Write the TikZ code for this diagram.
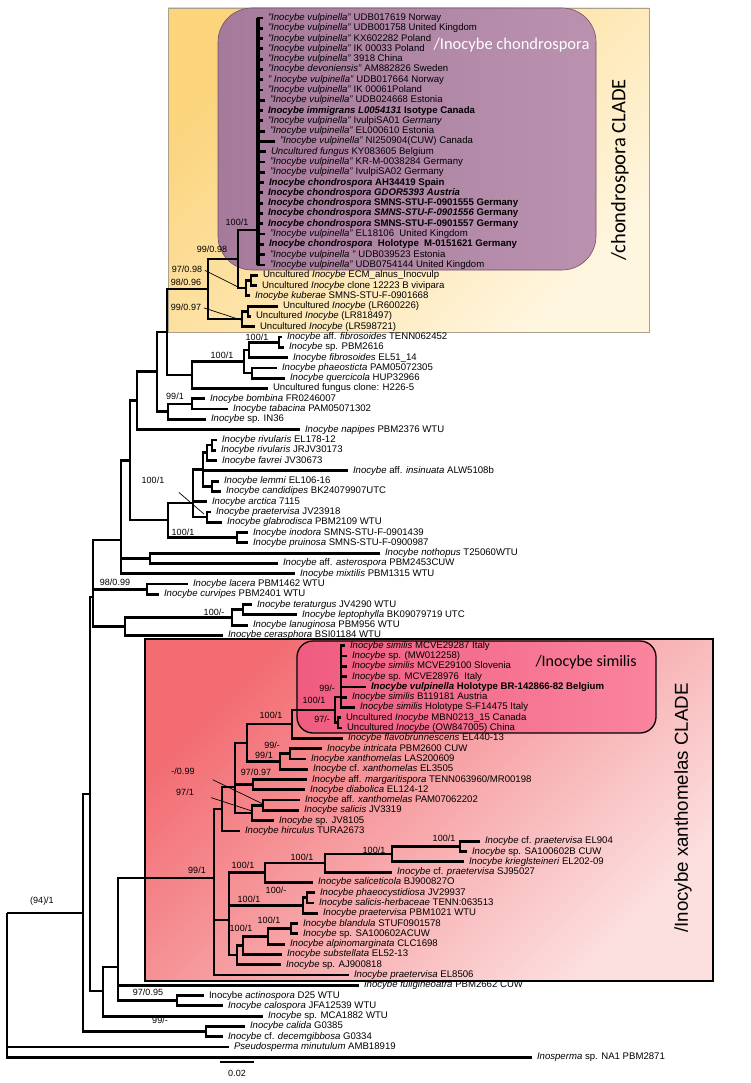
\documentclass[tikz,border=0pt]{standalone}
\usepackage{fontspec}
\setmainfont{Liberation Sans}
\newfontfamily\calfont{Carlito}

\definecolor{yelltop}{RGB}{251,212,124}
\definecolor{yellbot}{RGB}{255,246,224}
\definecolor{yellline}{RGB}{170,160,140}
\definecolor{mauveL}{RGB}{166,122,154}
\definecolor{mauveR}{RGB}{186,146,176}
\definecolor{mauveline}{RGB}{110,80,100}
\definecolor{xanTL}{RGB}{242,108,114}
\definecolor{xanBR}{RGB}{252,224,224}
\definecolor{simL}{RGB}{239,92,128}
\definecolor{simR}{RGB}{250,132,158}

\tikzset{
  br/.style={line width=2.8pt},
  chbr/.style={line width=3.8pt},
  leaf/.style={anchor=west, inner xsep=5pt, inner ysep=0pt, outer sep=0pt, text height=7pt, text depth=2pt, font=\fontsize{9.6}{11}\selectfont},
  supp/.style={inner sep=0pt, font=\fontsize{9}{10}\selectfont},
  ptr/.style={line width=0.7pt},
  cladetxt/.style={font=\calfont\fontsize{16.5}{18}\selectfont},
}

\begin{document}
\begin{tikzpicture}[x=1pt,y=-1pt]
	\useasboundingbox (0,0) rectangle (750,1083);

	% clade boxes
	\shade[top color=yelltop, bottom color=yellbot, shading angle=45] (168,8) rectangle (649,332);
	\draw[line width=0.6pt, draw=yellline] (168,8) rectangle (649,332);
	\shade[rounded corners=34pt, left color=mauveL, right color=mauveR] (218,8) rectangle (596,270);
	\draw[rounded corners=34pt, line width=0.6pt, draw=mauveline] (218,8) rectangle (596,270);
	\shade[top color=xanTL, bottom color=xanBR, shading angle=45] (145,639) rectangle (713,981);
	\draw[line width=1.2pt] (145,639) rectangle (713,981);
	\shade[rounded corners=16pt, left color=simL, right color=simR] (297,641) rectangle (656,733);
	\draw[rounded corners=16pt, line width=1.3pt] (297,641) rectangle (656,733);

	% clade names
	\node[cladetxt, text=white, anchor=west] (tch) at (430,45) {/Inocybe chondrospora};
	\node[font=\calfont\fontsize{20.5}{22}\selectfont, rotate=90] (tchc) at (620,170) {/chondrospora CLADE};
	\node[font=\calfont\fontsize{16}{18}\selectfont, anchor=west] (tsim) at (532,662) {/Inocybe similis};
	\node[font=\fontsize{18.7}{20}\selectfont, rotate=90] (txan) at (683,808) {/Inocybe xanthomelas CLADE};

	% leaves
	\node[leaf] (l1) at (263,18.0) {\textit{"Inocybe vulpinella"} UDB017619 Norway};
	\node[leaf] (l2) at (263,28.3) {\textit{"Inocybe vulpinella"} UDB001758 United Kingdom};
	\node[leaf] (l3) at (263,38.6) {\textit{"Inocybe vulpinella"} KX602282 Poland};
	\node[leaf] (l4) at (263,48.9) {\textit{"Inocybe vulpinella"} IK 00033 Poland};
	\node[leaf] (l5) at (263,59.2) {\textit{"Inocybe vulpinella"} 3918 China};
	\node[leaf] (l6) at (263,69.5) {\textit{"Inocybe devoniensis"} AM882826 Sweden};
	\node[leaf] (l7) at (263,79.7) {\textit{" Inocybe vulpinella"} UDB017664 Norway};
	\node[leaf] (l8) at (263,90.0) {\textit{"Inocybe vulpinella"} IK 00061Poland};
	\node[leaf] (l9) at (265,100.3) {\textit{"Inocybe vulpinella"} UDB024668 Estonia};
	\node[leaf] (l10) at (263,110.6) {\textbf{\textit{Inocybe immigrans L0054131} Isotype Canada}};
	\node[leaf] (l11) at (263,120.9) {\textit{"Inocybe vulpinella"} IvulpiSA01 \textit{Germany}};
	\node[leaf] (l12) at (265,131.2) {\textit{"Inocybe vulpinella"} EL000610 Estonia};
	\node[leaf] (l13) at (275,141.5) {\textit{"Inocybe vulpinella"} NI250904(CUW) Canada};
	\node[leaf] (l14) at (266,151.8) {\textit{Uncultured fungus} KY083605 Belgium};
	\node[leaf] (l15) at (265,162.1) {\textit{"Inocybe vulpinella"} KR-M-0038284 Germany};
	\node[leaf] (l16) at (265,172.4) {\textit{"Inocybe vulpinella"} IvulpiSA02 Germany};
	\node[leaf] (l17) at (264,182.6) {\textbf{\textit{Inocybe chondrospora} AH34419 Spain}};
	\node[leaf] (l18) at (263,192.9) {\textbf{\textit{Inocybe chondrospora GDOR5393 Austria}}};
	\node[leaf] (l19) at (263,203.2) {\textbf{\textit{Inocybe chondrospora} SMNS-STU-F-0901555 Germany}};
	\node[leaf] (l20) at (263,213.5) {\textbf{\textit{Inocybe chondrospora SMNS-STU-F-0901556} Germany}};
	\node[leaf] (l21) at (263,223.8) {\textbf{\textit{Inocybe chondrospora} SMNS-STU-F-0901557 Germany}};
	\node[leaf] (l22) at (265,234.1) {\textit{"Inocybe vulpinella"} EL18106\ \ United Kingdom};
	\node[leaf] (l23) at (264,244.4) {\textbf{\textit{Inocybe chondrospora}\ \ Holotype\ \ M-0151621 Germany}};
	\node[leaf] (l24) at (265,254.7) {\textit{"Inocybe vulpinella "} UDB039523 Estonia};
	\node[leaf] (l25) at (265,265.0) {\textit{"Inocybe vulpinella"} UDB0754144 United Kingdom};
	\node[leaf] (l26) at (258,275.3) {Uncultured \textit{Inocybe} ECM\_alnus\_Inocvulp};
	\node[leaf] (l27) at (257,285.5) {Uncultured \textit{Inocybe} clone 12223 B vivipara};
	\node[leaf] (l28) at (250,295.8) {\textit{Inocybe kuberae} SMNS-STU-F-0901668};
	\node[leaf] (l29) at (278,306.1) {Uncultured \textit{Inocybe} (LR600226)};
	\node[leaf] (l30) at (251,316.4) {Uncultured \textit{Inocybe} (LR818497)};
	\node[leaf] (l31) at (255,326.7) {Uncultured \textit{Inocybe} (LR598721)};
	\node[leaf] (l32) at (282,337.0) {\textit{Inocybe} aff. \textit{fibrosoides} TENN062452};
	\node[leaf] (l33) at (284,347.3) {\textit{Inocybe} sp. PBM2616};
	\node[leaf] (l34) at (288,357.6) {\textit{Inocybe fibrosoides} EL51\_14};
	\node[leaf] (l35) at (277,367.9) {\textit{Inocybe phaeosticta} PAM05072305};
	\node[leaf] (l36) at (285,378.2) {\textit{Inocybe quercicola} HUP32966};
	\node[leaf] (l37) at (268,388.4) {Uncultured fungus clone: H226-5};
	\node[leaf] (l38) at (205,398.7) {\textit{Inocybe bombina} FR0246007};
	\node[leaf] (l39) at (228,409.0) {\textit{Inocybe tabacina} PAM05071302};
	\node[leaf] (l40) at (206,419.3) {\textit{Inocybe} sp. IN36};
	\node[leaf] (l41) at (300,429.6) {\textit{Inocybe napipes} PBM2376 WTU};
	\node[leaf] (l42) at (217,439.9) {\textit{Inocybe rivularis} EL178-12};
	\node[leaf] (l43) at (216,450.2) {\textit{Inocybe rivularis} JRJV30173};
	\node[leaf] (l44) at (217,460.5) {\textit{Inocybe favrei} JV30673};
	\node[leaf] (l45) at (348,470.8) {\textit{Inocybe} aff. \textit{insinuata} ALW5108b};
	\node[leaf] (l46) at (219,481.1) {\textit{Inocybe lemmi} EL106-16};
	\node[leaf] (l47) at (221,491.3) {\textit{Inocybe candidipes} BK24079907UTC};
	\node[leaf] (l48) at (207,501.6) {\textit{Inocybe arctica} 7115};
	\node[leaf] (l49) at (211,511.9) {\textit{Inocybe praetervisa} JV23918};
	\node[leaf] (l50) at (222,522.2) {\textit{Inocybe glabrodisca} PBM2109 WTU};
	\node[leaf] (l51) at (248,532.5) {\textit{Inocybe inodora} SMNS-STU-F-0901439};
	\node[leaf] (l52) at (248,542.8) {\textit{Inocybe pruinosa} SMNS-STU-F-0900987};
	\node[leaf] (l53) at (380,553.1) {\textit{Inocybe nothopus} T25060WTU};
	\node[leaf] (l54) at (278,563.4) {\textit{Inocybe} aff. \textit{asterospora} PBM2453CUW};
	\node[leaf] (l55) at (295,573.7) {\textit{Inocybe mixtilis} PBM1315 WTU};
	\node[leaf] (l56) at (188,584.0) {\textit{Inocybe lacera} PBM1462 WTU};
	\node[leaf] (l57) at (159,594.2) {\textit{Inocybe curvipes} PBM2401 WTU};
	\node[leaf] (l58) at (252,604.5) {\textit{Inocybe teraturgus} JV4290 WTU};
	\node[leaf] (l59) at (297,614.8) {\textit{Inocybe leptophylla} BK09079719 UTC};
	\node[leaf] (l60) at (248,625.1) {\textit{Inocybe lanuginosa} PBM956 WTU};
	\node[leaf] (l61) at (223,635.4) {\textit{Inocybe cerasphora} BSI01184 WTU};
	\node[leaf] (l62) at (345,645.7) {\textit{Inocybe similis} MCVE29287 Italy};
	\node[leaf] (l63) at (347,656.0) {\textit{Inocybe} sp. (MW012258)};
	\node[leaf] (l64) at (347,666.3) {\textit{Inocybe similis} MCVE29100 Slovenia};
	\node[leaf] (l65) at (347,676.6) {\textit{Inocybe} sp. MCVE28976\ \ Italy};
	\node[leaf] (l66) at (366,686.9) {\textbf{\textit{Inocybe vulpinella} Holotype BR-142866-82 Belgium}};
	\node[leaf] (l67) at (347,697.1) {\textit{Inocybe similis} B119181 Austria};
	\node[leaf] (l68) at (355,707.4) {\textit{Inocybe similis} Holotype S-F14475 Italy};
	\node[leaf] (l69) at (341,717.7) {Uncultured \textit{Inocybe} MBN0213\_15 Canada};
	\node[leaf] (l70) at (342,728.0) {Uncultured \textit{Inocybe} (OW847005) China};
	\node[leaf] (l71) at (343,738.3) {\textit{Inocybe flavobrunnescens} EL440-13};
	\node[leaf] (l72) at (322,748.6) {\textit{Inocybe intricata} PBM2600 CUW};
	\node[leaf] (l73) at (306,758.9) {\textit{Inocybe xanthomelas} LAS200609};
	\node[leaf] (l74) at (308,769.2) {\textit{Inocybe} cf. \textit{xanthomelas} EL3505};
	\node[leaf] (l75) at (307,779.5) {\textit{Inocybe} aff. \textit{margaritispora} TENN063960/MR00198};
	\node[leaf] (l76) at (305,789.8) {\textit{Inocybe diabolica} EL124-12};
	\node[leaf] (l77) at (300,800.0) {\textit{Inocybe} aff. \textit{xanthomelas} PAM07062202};
	\node[leaf] (l78) at (299,810.3) {\textit{Inocybe salicis} JV3319};
	\node[leaf] (l79) at (274,820.6) {\textit{Inocybe} sp. JV8105};
	\node[leaf] (l80) at (240,830.9) {\textit{Inocybe hirculus} TURA2673};
	\node[leaf] (l81) at (480,841.2) {\textit{Inocybe} cf. \textit{praetervisa} EL904};
	\node[leaf] (l82) at (467,851.5) {\textit{Inocybe} sp. SA100602B CUW};
	\node[leaf] (l83) at (464,861.8) {\textit{Inocybe krieglsteineri} EL202-09};
	\node[leaf] (l84) at (392,872.1) {\textit{Inocybe} cf. \textit{praetervisa} SJ95027};
	\node[leaf] (l85) at (313,882.4) {\textit{Inocybe saliceticola} BJ900827O};
	\node[leaf] (l86) at (315,892.7) {\textit{Inocybe phaeocystidiosa} JV29937};
	\node[leaf] (l87) at (314,902.9) {\textit{Inocybe salicis-herbaceae} TENN:063513};
	\node[leaf] (l88) at (318,913.2) {\textit{Inocybe praetervisa} PBM1021 WTU};
	\node[leaf] (l89) at (298,923.5) {\textit{Inocybe blandula} STUF0901578};
	\node[leaf] (l90) at (298,933.8) {\textit{Inocybe} sp. SA100602ACUW};
	\node[leaf] (l91) at (285,944.1) {\textit{Inocybe alpinomarginata} CLC1698};
	\node[leaf] (l92) at (282,954.4) {\textit{Inocybe substellata} EL52-13};
	\node[leaf] (l93) at (281,964.7) {\textit{Inocybe} sp. AJ900818};
	\node[leaf] (l94) at (349,975.0) {\textit{Inocybe praetervisa} EL8506};
	\node[leaf] (l95) at (359,985.3) {\textit{Inocybe fuligineoatra} PBM2662 CUW};
	\node[leaf] (l96) at (204,995.6) {Inocybe \textit{actinospora} D25 WTU};
	\node[leaf] (l97) at (223,1005.8) {\textit{Inocybe calospora} JFA12539 WTU};
	\node[leaf] (l98) at (263,1016.1) {\textit{Inocybe} sp. MCA1882 WTU};
	\node[leaf] (l99) at (245,1026.4) {\textit{Inocybe calida} G0385};
	\node[leaf] (l100) at (223,1036.7) {\textit{Inocybe} cf. \textit{decemgibbosa} G0334};
	\node[leaf] (l101) at (229,1047.0) {\textit{Pseudosperma minutulum} AMB18919};
	\node[leaf] (l102) at (532,1057.3) {\textit{Inosperma} sp. NA1 PBM2871};

	% internal nodes
	\coordinate (nch) at (258,230);
	\coordinate (necm2) at (251,280.4);
	\coordinate (necm) at (246,288);
	\coordinate (n238) at (238,259);
	\coordinate (nlr2) at (248,311.2);
	\coordinate (nlr) at (242,319);
	\coordinate (n208) at (208,289);
	\coordinate (nf1) at (279,342.2);
	\coordinate (nf2) at (249,350);
	\coordinate (nph) at (252,373);
	\coordinate (nf3) at (244,361.5);
	\coordinate (n192) at (192,375);
	\coordinate (n167) at (167,332);
	\coordinate (nbo2) at (192,403.9);
	\coordinate (nbo) at (168,411.6);
	\coordinate (n157) at (157,371.8);
	\coordinate (n137) at (137,400.7);
	\coordinate (nriv) at (212,445);
	\coordinate (nfav) at (207,452.7);
	\coordinate (nlem) at (212,486.2);
	\coordinate (n203) at (203,469.5);
	\coordinate (npr) at (207,517);
	\coordinate (n193) at (193,503);
	\coordinate (nino) at (237,537.6);
	\coordinate (n168) at (168,520);
	\coordinate (n130) at (130,460.4);
	\coordinate (nnot) at (150,558.2);
	\coordinate (n120) at (121,540);
	\coordinate (nlac) at (147,589.1);
	\coordinate (nter2) at (243,609.6);
	\coordinate (nter) at (232,617.4);
	\coordinate (ncer) at (125,626.4);
	\coordinate (n93) at (93,597);
	\coordinate (nsim) at (341,697);
	\coordinate (nunc) at (338,722.8);
	\coordinate (n335) at (335,710);
	\coordinate (n292) at (292,724);
	\coordinate (nint) at (290,753.7);
	\coordinate (n280) at (280,761.5);
	\coordinate (n247) at (247,743);
	\coordinate (nmar) at (253,784.6);
	\coordinate (nsal2) at (263,805.2);
	\coordinate (nsal) at (252,812.9);
	\coordinate (n235) at (235,787);
	\coordinate (n222) at (222,809);
	\coordinate (n460) at (460,846.3);
	\coordinate (n392) at (392,854);
	\coordinate (n325) at (325,863);
	\coordinate (n265) at (265,872.7);
	\coordinate (nph2) at (307,897.8);
	\coordinate (nph1) at (303,905.5);
	\coordinate (nbl) at (291,928.6);
	\coordinate (n268) at (268,936.4);
	\coordinate (n243) at (243,945.4);
	\coordinate (n237) at (237,955);
	\coordinate (n229) at (229,920);
	\coordinate (nxan) at (214,878);
	\coordinate (nact) at (177,1000.7);
	\coordinate (n118) at (118,967);
	\coordinate (n103) at (103,991);
	\coordinate (n90) at (90,794);
	\coordinate (ncal) at (206,1031.5);
	\coordinate (n83) at (83,913);
	\coordinate (nroot) at (7,913);

	% branches, root side
	\draw[br] (nroot) |- (n83) (nroot) |- (l101) (nroot) |- (l102);
	\draw[br] (n83) |- (n90) (n83) |- (ncal);
	\draw[br] (ncal) |- (l99) (ncal) |- (l100);
	\draw[br] (n90) |- (n93) (n90) |- (n103);
	\draw[br] (n103) |- (n118) (n103) |- (l98);
	\draw[br] (n118) |- (nxan) (n118) |- (l95) (n118) |- (nact);
	\draw[br] (nact) |- (l96) (nact) |- (l97);

	% branches, xanthomelas clade
	\draw[br] (nxan) |- (n222) (nxan) |- (n229) (nxan) |- (l94);
	\draw[br] (n222) |- (n235) (n222) |- (l80);
	\draw[br] (n235) |- (n247) (n235) |- (nmar) (n235) |- (nsal);
	\draw[br] (n247) |- (n292) (n247) |- (n280);
	\draw[br] (n292) |- (n335) (n292) |- (l71);
	\draw[br] (n335) |- (nsim) (n335) |- (nunc);
	\draw[br] (nsim) |- (l62) (nsim) |- (l63) (nsim) |- (l64) (nsim) |- (l65)
	          (nsim) |- (l66) (nsim) |- (l67) (nsim) |- (l68);
	\draw[br] (nunc) |- (l69) (nunc) |- (l70);
	\draw[br] (n280) |- (nint) (n280) |- (l74);
	\draw[br] (nint) |- (l72) (nint) |- (l73);
	\draw[br] (nmar) |- (l75) (nmar) |- (l76);
	\draw[br] (nsal) |- (nsal2) (nsal) |- (l79);
	\draw[br] (nsal2) |- (l77) (nsal2) |- (l78);
	\draw[br] (n229) |- (n265) (n229) |- (nph1) (n229) |- (n237);
	\draw[br] (n265) |- (n325) (n265) |- (l85);
	\draw[br] (n325) |- (n392) (n325) |- (l84);
	\draw[br] (n392) |- (n460) (n392) |- (l83);
	\draw[br] (n460) |- (l81) (n460) |- (l82);
	\draw[br] (nph1) |- (nph2) (nph1) |- (l88);
	\draw[br] (nph2) |- (l86) (nph2) |- (l87);
	\draw[br] (n237) |- (n243) (n237) |- (l93);
	\draw[br] (n243) |- (n268) (n243) |- (l92);
	\draw[br] (n268) |- (nbl) (n268) |- (l91);
	\draw[br] (nbl) |- (l89) (nbl) |- (l90);

	% branches, middle part
	\draw[br] (n93) |- (n120) (n93) |- (nlac) (n93) |- (ncer);
	\draw[br] (ncer) |- (nter) (ncer) |- (l61);
	\draw[br] (nter) |- (nter2) (nter) |- (l60);
	\draw[br] (nter2) |- (l58) (nter2) |- (l59);
	\draw[br] (nlac) |- (l56) (nlac) |- (l57);
	\draw[br] (n120) |- (n130) (n120) |- (nnot) (n120) |- (l55);
	\draw[br] (nnot) |- (l53) (nnot) |- (l54);
	\draw[br] (n130) |- (n137) (n130) |- (n168);
	\draw[br] (n168) |- (n193) (n168) |- (nino);
	\draw[br] (nino) |- (l51) (nino) |- (l52);
	\draw[br] (n193) |- (n203) (n193) |- (l48) (n193) |- (npr);
	\draw[br] (npr) |- (l49) (npr) |- (l50);
	\draw[br] (n203) |- (nfav) (n203) |- (l45) (n203) |- (nlem);
	\draw[br] (nfav) |- (nriv) (nfav) |- (l44);
	\draw[br] (nriv) |- (l42) (nriv) |- (l43);
	\draw[br] (nlem) |- (l46) (nlem) |- (l47);
	\draw[br] (n137) |- (n157) (n137) |- (l41);
	\draw[br] (n157) |- (n167) (n157) |- (nbo);
	\draw[br] (nbo) |- (nbo2) (nbo) |- (l40);
	\draw[br] (nbo2) |- (l38) (nbo2) |- (l39);
	\draw[br] (n167) |- (n208) (n167) |- (n192);
	\draw[br] (n192) |- (nf3) (n192) |- (l37);
	\draw[br] (nf3) |- (nf2) (nf3) |- (nph);
	\draw[br] (nf2) |- (nf1) (nf2) |- (l34);
	\draw[br] (nf1) |- (l32) (nf1) |- (l33);
	\draw[br] (nph) |- (l35) (nph) |- (l36);

	% branches, chondrospora clade
	\draw[br] (n208) |- (n238) (n208) |- (nlr);
	\draw[br] (nlr) |- (nlr2) (nlr) |- (l31);
	\draw[br] (nlr2) |- (l29) (nlr2) |- (l30);
	\draw[br] (n238) |- (nch) (n238) |- (necm);
	\draw[br] (necm) |- (necm2) (necm) |- (l28);
	\draw[br] (necm2) |- (l26) (necm2) |- (l27);
	\draw[br] (nch) |- (l1) (nch) |- (l2) (nch) |- (l3) (nch) |- (l4) (nch) |- (l5)
	          (nch) |- (l6) (nch) |- (l7) (nch) |- (l8) (nch) |- (l9) (nch) |- (l10)
	          (nch) |- (l11) (nch) |- (l12) (nch) |- (l13) (nch) |- (l14) (nch) |- (l15)
	          (nch) |- (l16) (nch) |- (l17) (nch) |- (l18) (nch) |- (l19) (nch) |- (l20)
	          (nch) |- (l21) (nch) |- (l22) (nch) |- (l23) (nch) |- (l24) (nch) |- (l25);
	\draw[chbr] (l1 -| nch) -- (l25 -| nch);

	% support values
	\node[supp] (s1) at (237,222) {100/1};
	\node[supp] (s2) at (212,249) {99/0.98};
	\node[supp] (s3) at (187,269) {97/0.98};
	\node[supp] (s4) at (186,282) {98/0.96};
	\node[supp] (s5) at (186,307) {99/0.97};
	\node[supp] (s6) at (257,337) {100/1};
	\node[supp] (s7) at (222,355) {100/1};
	\node[supp] (s8) at (175,396) {99/1};
	\node[supp] (s9) at (153,480) {100/1};
	\node[supp] (s10) at (183,532) {100/1};
	\node[supp] (s11) at (115,582) {98/0.99};
	\node[supp] (s12) at (214,612) {100/-};
	\node[supp] (s13) at (327,688) {99/-};
	\node[supp] (s14) at (314,700) {100/1};
	\node[supp] (s15) at (322,719) {97/-};
	\node[supp] (s16) at (271,715) {100/1};
	\node[supp] (s17) at (272,745) {99/-};
	\node[supp] (s18) at (264,755) {99/1};
	\node[supp] (s19) at (183,771) {-/0.99};
	\node[supp] (s20) at (256,772) {97/0.97};
	\node[supp] (s21) at (185,792) {97/1};
	\node[supp] (s22) at (444,838) {100/1};
	\node[supp] (s23) at (374,850) {100/1};
	\node[supp] (s24) at (302,857) {100/1};
	\node[supp] (s25) at (243,865) {100/1};
	\node[supp] (s26) at (197,870) {99/1};
	\node[supp] (s27) at (276,890) {100/-};
	\node[supp] (s28) at (249,899) {100/1};
	\node[supp] (s29) at (269,920) {100/1};
	\node[supp] (s30) at (241,928) {100/1};
	\node[supp] (s31) at (42,901) {(94)/1};
	\node[supp] (s32) at (148,992) {97/0.95};
	\node[supp] (s33) at (160,1020) {99/-};

	% pointer lines to small nodes
	\coordinate (p1) at (238,287);
	\coordinate (p2) at (241,320);
	\coordinate (p3) at (204,514);
	\coordinate (p4) at (263,804);
	\coordinate (p5) at (252,811);
	\draw[ptr, shorten <=3pt] (s3.east) -- (p1);
	\draw[ptr, shorten <=3pt] (s5.east) -- (p2);
	\draw[ptr, shorten <=19pt] (s9.east) -- (p3);
	\draw[ptr, shorten <=20pt] (s19.east) -- (p4);
	\draw[ptr, shorten <=18pt] (s21.east) -- (p5);

	% scale bar
	\coordinate (sb0) at (220,1062);
	\coordinate (sb1) at (254,1062);
	\draw[line width=1.2pt] (sb0) -- (sb1);
	\node[supp] (sbl) at (237,1073) {0.02};

\end{tikzpicture}
\end{document}
